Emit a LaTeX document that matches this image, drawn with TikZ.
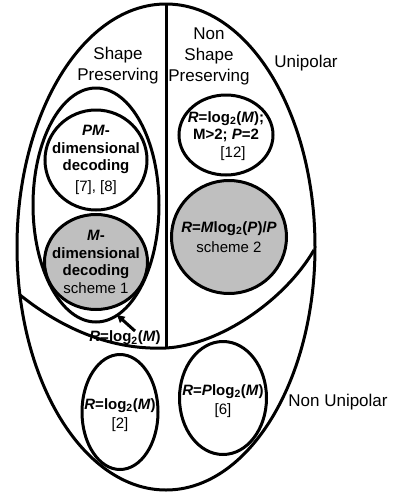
\documentclass[tikz,border=0pt]{standalone}
\usepackage{fontspec}
\setmainfont{Liberation Sans}
\usetikzlibrary{positioning,shapes,arrows.meta}

\tikzset{
  line/.style={draw, line width=3pt},
  greyfill/.style={line, fill=black!25},
  txt/.style={align=center, inner sep=0pt, font=\fontsize{15}{17.5}\selectfont},
  lbl/.style={align=center, inner sep=0pt, font=\fontsize{17}{21}\selectfont},
}

\begin{document}
\begin{tikzpicture}[x=1pt,y=-1pt]
\useasboundingbox (0,0) rectangle (395,496);
% big sets
\coordinate (outer) at (166,247);
\coordinate (top) at (166,4);
\coordinate (split) at (166,348);
\coordinate (lefte) at (20,295);
\coordinate (righte) at (314,250);
\draw[line] (outer) ellipse (149 and 243);
\draw[line] (top) -- (split);
\draw[line] (lefte) .. controls (70,335) and (120,350) .. (split)
  .. controls (220,345) and (285,300) .. (righte);
\draw[line] (96,205) ellipse (63 and 117);
% shape preserving
\draw[line] (96,160) ellipse (51 and 50);
\node[txt] (pmdim) at (96,160)
  {\textbf{\textit{PM}-}\\ \textbf{dimensional}\\ \textbf{decoding}\\[3pt] {[7], [8]}};
\draw[greyfill] (96,262) ellipse (51.5 and 47.5);
\node[txt] (mdim) at (96,262)
  {\textbf{\textit{M}-}\\ \textbf{dimensional}\\ \textbf{decoding}\\ scheme 1};
% non shape preserving
\draw[line] (226,135) ellipse (47 and 40);
\node[txt] (nsp) at (226,136)
  {\textbf{\textit{R}=log\textsubscript{2}(\textit{M});}\\ \textbf{M>2; \textit{P}=2}\\ \hspace{14pt}{[12]}};
\draw[greyfill] (229,237) ellipse (57.5 and 56.5);
\node[txt] (scheme2) at (229,237)
  {\textbf{\textit{R}=\textit{M}log\textsubscript{2}(\textit{P})/\textit{P}}\\[3pt] scheme 2};
% non unipolar
\draw[line] (120,412) ellipse (38 and 57.5);
\node[txt] (nu1) at (120,415)
  {\textbf{\textit{R}=log\textsubscript{2}(\textit{M})}\\[2pt] {[2]}};
\draw[line] (223,398) ellipse (43.5 and 56.5);
\node[txt] (nu2) at (223,401)
  {\textbf{\textit{R}=\textit{P}log\textsubscript{2}(\textit{M})}\\[2pt] {[6]}};
% arrow
\node[txt] (rlog) at (125,338)
  {\textbf{\textit{R}=log\textsubscript{2}(\textit{M})}};
\coordinate (arrtail) at (135,331);
\coordinate (arrhead) at (116,314);
\draw[-{Latex[length=9pt,width=9pt]}, line width=3pt] (arrtail) -- (arrhead);
% labels
\node[lbl] (shp) at (118,66) {Shape\\Preserving};
\node[lbl] (nshp) at (209,56) {Non\\Shape\\Preserving};
\node[lbl] (uni) at (306,63) {Unipolar};
\node[lbl] (nuni) at (338,402) {Non Unipolar};
\end{tikzpicture}
\end{document}
